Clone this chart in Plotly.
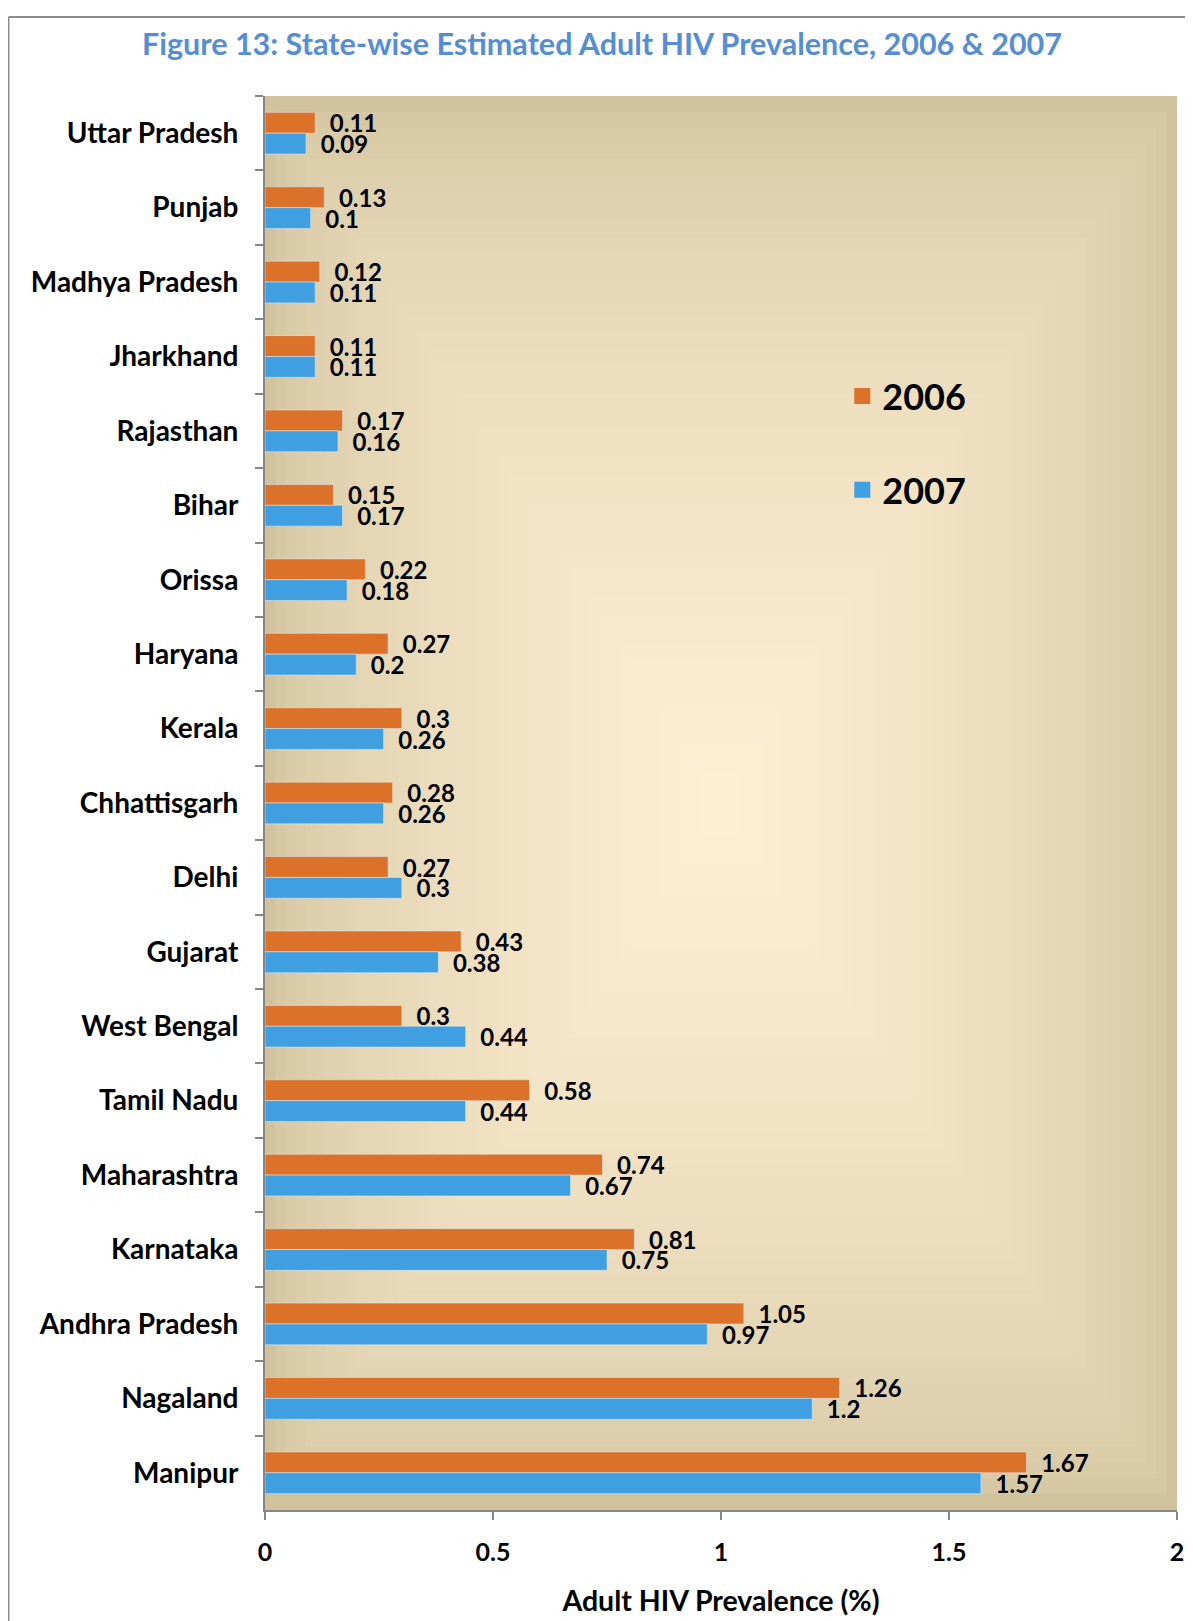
import plotly.graph_objects as go

states = ["Uttar Pradesh", "Punjab", "Madhya Pradesh", "Jharkhand", "Rajasthan", "Bihar",
          "Orissa", "Haryana", "Kerala", "Chhattisgarh", "Delhi", "Gujarat", "West Bengal",
          "Tamil Nadu", "Maharashtra", "Karnataka", "Andhra Pradesh", "Nagaland", "Manipur"]
prev_2006 = [0.11, 0.13, 0.12, 0.11, 0.17, 0.15, 0.22, 0.27, 0.3, 0.28, 0.27, 0.43, 0.3,
             0.58, 0.74, 0.81, 1.05, 1.26, 1.67]
prev_2007 = [0.09, 0.1, 0.11, 0.11, 0.16, 0.17, 0.18, 0.2, 0.26, 0.26, 0.3, 0.38, 0.44,
             0.44, 0.67, 0.75, 0.97, 1.2, 1.57]
x_ticks = [0, 0.5, 1, 1.5, 2]
x_ticklabels = ["0", "0.5", "1", "1.5", "2"]
series_names = ["2006", "2007"]

ORANGE = "#DC7129"
BLUE = "#409FE1"
FONT = "Lato"

fig = go.Figure()
for name, vals, col, grp in [(series_names[0], prev_2006, ORANGE, "a"),
                             (series_names[1], prev_2007, BLUE, "b")]:
    fig.add_trace(go.Bar(
        y=states, x=vals, name=name, orientation="h",
        marker=dict(color=col),
        text=vals, texttemplate="\u00a0\u00a0%{x}", textposition="outside",
        constraintext="none",
        textfont=dict(family=FONT, size=24, color="black", weight="bold"),
        cliponaxis=False, legendgroup=grp, showlegend=False,
    ))
# legend entries with larger square keys
for name, col, grp in [(series_names[0], ORANGE, "a"), (series_names[1], BLUE, "b")]:
    fig.add_trace(go.Scatter(
        x=[None], y=[None], mode="markers", name=name,
        marker=dict(symbol="square", size=18, color=col),
        legendgroup=grp, showlegend=True, hoverinfo="skip",
    ))

# figure geometry
W, H = 1193, 1621
L, R, T, B = 257, 24, 88, 119
pw, ph = W - L - R, H - T - B
def px_x(p):
    return (p - L) / pw
def px_y(p):
    return 1 - (p - T) / ph

# rectangular gradient background of the plot area
edge = (209, 194, 158)
center = (254, 240, 212)
N = 45
cx, cy = 0.5, 0.5
shapes = []
for i in range(N):
    s = i / N
    f = (s ** 0.55)
    col = tuple(int(round(edge[k] + (center[k] - edge[k]) * f)) for k in range(3))
    shapes.append(dict(
        type="rect", xref="x domain", yref="y domain",
        x0=s * cx, x1=1 - s * (1 - cx), y0=s * cy, y1=1 - s * (1 - cy),
        fillcolor="rgb(%d,%d,%d)" % col, line=dict(width=0), layer="below",
    ))

# outer frame (left and top lines)
shapes.append(dict(type="line", xref="paper", yref="paper",
                   x0=px_x(0.5), x1=px_x(0.5), y0=px_y(9), y1=px_y(H),
                   line=dict(color="#8C8C8C", width=2)))
shapes.append(dict(type="line", xref="paper", yref="paper",
                   x0=px_x(0.5), x1=px_x(W), y0=px_y(9), y1=px_y(9),
                   line=dict(color="#8C8C8C", width=2)))

fig.update_layout(
    width=W, height=H,
    margin=dict(l=L, r=R, t=T, b=B),
    paper_bgcolor="white", plot_bgcolor="rgb(209,194,158)",
    font=dict(family=FONT, color="black", weight="bold"),
    barmode="group", bargap=0.44, bargroupgap=0,
    shapes=shapes,
    title=dict(
        text="Figure 13: State-wise Estimated Adult HIV Prevalence, 2006 & 2007",
        font=dict(family=FONT, size=30.5, color="#558ED5", weight="bold"),
        x=px_x(594), xanchor="center", xref="paper",
        y=1 - 36 / H, yanchor="middle",
    ),
    legend=dict(
        x=0.633, y=0.809, xanchor="left", yanchor="top",
        bgcolor="rgba(0,0,0,0)", traceorder="grouped", tracegroupgap=44,
        font=dict(family=FONT, size=36, color="black", weight="bold"),
    ),
    xaxis=dict(
        range=[0, 2], tickvals=x_ticks, ticktext=x_ticklabels,
        showgrid=False, zeroline=False,
        showline=True, linecolor="#868686", linewidth=2,
        ticks="outside", ticklen=8, tickcolor="#868686", tickwidth=2,
        tickfont=dict(family=FONT, size=25, color="black", weight="bold"),
        ticklabelstandoff=11,
        title=dict(text="Adult HIV Prevalence (%)", standoff=26,
                   font=dict(family=FONT, size=28.5, color="black", weight="bold")),
    ),
    yaxis=dict(
        autorange="reversed", showgrid=False, zeroline=False,
        showline=True, linecolor="#868686", linewidth=2,
        ticks="outside", tickson="boundaries", ticklen=8, tickcolor="#868686", tickwidth=2,
        tickfont=dict(family=FONT, size=28, color="black", weight="bold"),
        ticklabelstandoff=19,
    ),
)

fig.write_html("out.html")
